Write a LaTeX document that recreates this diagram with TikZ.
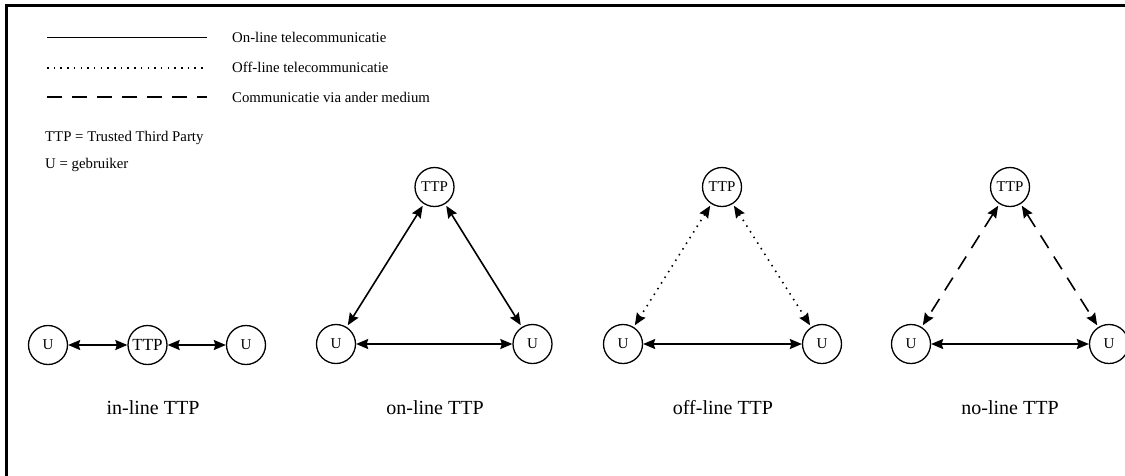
\documentclass[tikz,border=0pt]{standalone}
\usepackage{fontspec}
\setmainfont{Liberation Serif}
\usetikzlibrary{arrows.meta}
\tikzset{
  party/.style={circle,draw,line width=1.3pt,minimum size=39pt,inner sep=0pt,font=\fontsize{15}{17}\selectfont},
  conn/.style={line width=1.6pt,{Stealth[length=12pt,width=10pt,inset=1.5pt]}-{Stealth[length=12pt,width=10pt,inset=1.5pt]}},
  diag/.style={conn,shorten <=2pt,shorten >=2pt},
  offl/.style={dash pattern=on 1.5pt off 5.2pt},
  viaother/.style={dash pattern=on 15pt off 10pt},
  legtext/.style={anchor=west,inner sep=0pt,font=\fontsize{14.8}{17}\selectfont},
  caption/.style={inner sep=0pt,font=\fontsize{20}{24}\selectfont},
}
\begin{document}
\begin{tikzpicture}[x=1pt,y=-1pt]
\useasboundingbox (0,0) rectangle (1125,475);
% frame (cropped at right and bottom)
\coordinate (fb) at (6.5,476);
\coordinate (ftl) at (6.5,5.5);
\coordinate (fr) at (1126,5.5);
\draw[line width=2.2pt] (fb) -- (ftl) -- (fr);
% legend
\coordinate (l1a) at (47,37.5); \coordinate (l1b) at (207,37.5);
\coordinate (l2a) at (47,68); \coordinate (l2b) at (207,68);
\coordinate (l3a) at (47,97); \coordinate (l3b) at (207,97);
\draw[line width=1.7pt] (l1a) -- (l1b);
\draw[line width=1.7pt,offl] (l2a) -- (l2b);
\draw[line width=1.7pt,viaother] (l3a) -- (l3b);
\node[legtext] (t1) at (232,37.5) {On-line telecommunicatie};
\node[legtext] (t2) at (232,67.5) {Off-line telecommunicatie};
\node[legtext] (t3) at (232,97) {Communicatie via ander medium};
\node[legtext] (t4) at (45,137.5) {TTP = Trusted Third Party};
\node[legtext] (t5) at (45,165) {U = gebruiker};
% in-line
\node[party] (a1) at (48,345) {U};
\node[party,font=\fontsize{17}{19}\selectfont] (a2) at (147.5,345) {TTP};
\node[party] (a3) at (246,345) {U};
\draw[conn] (a1) -- (a2);
\draw[conn] (a2) -- (a3);
\node[caption] (c1) at (153,408) {in-line TTP};
% on-line
\node[party] (b1) at (336,344) {U};
\node[party] (b2) at (434.5,187) {TTP};
\node[party] (b3) at (532.5,344) {U};
\draw[conn] (b1) -- (b3);
\draw[diag] (b2) -- (b1);
\draw[diag] (b2) -- (b3);
\node[caption] (c2) at (435,408) {on-line TTP};
% off-line
\node[party] (d1) at (623,344) {U};
\node[party] (d2) at (722,187) {TTP};
\node[party] (d3) at (822,344) {U};
\draw[conn] (d1) -- (d3);
\draw[diag,offl] (d2) -- (d1);
\draw[diag,offl] (d2) -- (d3);
\node[caption] (c3) at (723,408) {off-line TTP};
% no-line
\node[party] (e1) at (911,344) {U};
\node[party] (e2) at (1010,187) {TTP};
\node[party] (e3) at (1109,344) {U};
\draw[conn] (e1) -- (e3);
\draw[diag,viaother] (e2) -- (e1);
\draw[diag,viaother] (e2) -- (e3);
\node[caption] (c4) at (1010,408) {no-line TTP};
\end{tikzpicture}
\end{document}
